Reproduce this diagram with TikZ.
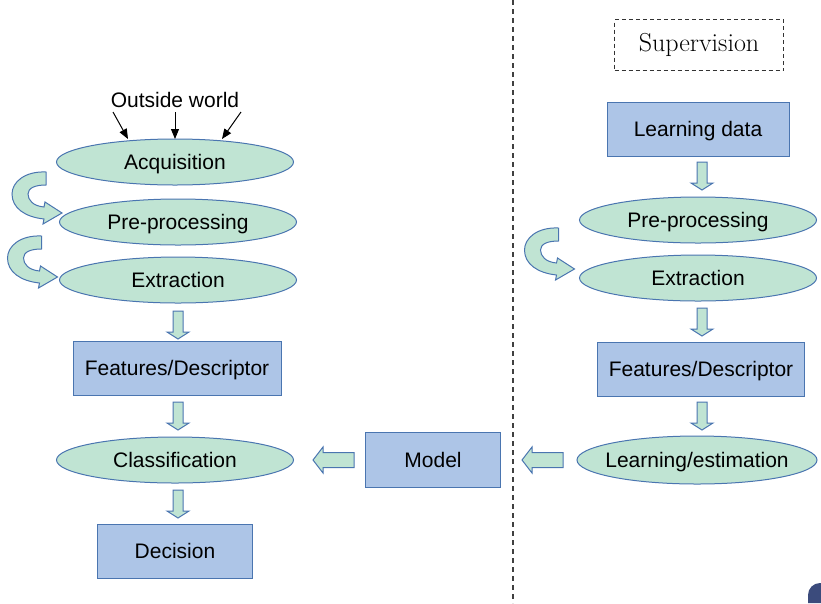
\documentclass[tikz,border=0pt]{standalone}
\usepackage{fontspec}
\newfontfamily\diagfont{Liberation Sans}
\usetikzlibrary{shapes.geometric,arrows.meta}
\definecolor{stagegreen}{HTML}{C0E4D3}
\definecolor{blockblue}{HTML}{ADC5E7}
\definecolor{edgeblue}{HTML}{4A75B0}
\definecolor{navblue}{HTML}{3B4B7C}
\tikzset{stage/.style={ellipse,draw=edgeblue,fill=stagegreen,line width=1pt,minimum width=237pt,minimum height=46pt,inner sep=0pt,text height=15pt,text depth=0pt,font=\diagfont\fontsize{21}{25}\selectfont}}
\tikzset{block/.style={rectangle,draw=edgeblue,fill=blockblue,line width=1pt,minimum height=54pt,inner sep=0pt,text height=15pt,text depth=0pt,font=\diagfont\fontsize{21}{25}\selectfont}}
\tikzset{plaintext/.style={inner sep=0pt,font=\diagfont\fontsize{21}{25}\selectfont}}
\tikzset{superbox/.style={rectangle,draw=black!80,dash pattern=on 4pt off 3pt,line width=1pt,minimum width=169pt,minimum height=51pt,font=\fontsize{26}{30}\selectfont}}
\tikzset{flow/.style={draw=edgeblue,fill=stagegreen,line width=1pt,line join=miter}}
\tikzset{feed/.style={-{Triangle[length=10pt,width=8pt]},line width=1pt,black}}
\tikzset{
  downarrow/.pic={\draw[flow] (-5,0) -- (5,0) -- (5,21) -- (11,21) -- (0,28) -- (-11,21) -- (-5,21) -- cycle;},
  leftarrow/.pic={\draw[flow] (0,0) -- (10,-13) -- (10,-7.5) -- (41,-7.5) -- (41,7.5) -- (10,7.5) -- (10,13) -- cycle;},
  turnarrow/.pic={\draw[flow] (16,-22) .. controls (-5,-23) and (-18,-12) .. (-18,0)
      .. controls (-18,14) and (-5,23) .. (14,25) -- (13,30) -- (32,19) -- (15,8) -- (14,13)
      .. controls (3,12) and (-2,6) .. (-2,0) .. controls (-2,-6) and (5,-9) .. (16,-9) -- cycle;}
}

\begin{document}
\begin{tikzpicture}[x=1pt,y=-1pt]
    \useasboundingbox (0,0) rectangle (821,603);

    % recognition chain
    \node [plaintext] (world) at (175,100) {Outside world};
    \node [stage] (acq) at (175,162) {Acquisition};
    \node [stage] (pre) at (178,222) {Pre-processing};
    \node [stage] (ext) at (178,280) {Extraction};
    \node [block,minimum width=208pt] (feat) at (177,368) {Features/Descriptor};
    \node [stage] (cls) at (175,460) {Classification};
    \node [block,minimum width=155pt] (dec) at (175,551) {Decision};

    \coordinate (w1) at (113,112);
    \coordinate (w2) at (175,112);
    \coordinate (w3) at (241,112);
    \coordinate (a1) at (128,139);
    \coordinate (a2) at (175,139);
    \coordinate (a3) at (222,139);
    \draw [feed] (w1) -- (a1);
    \draw [feed] (w2) -- (a2);
    \draw [feed] (w3) -- (a3);

    \pic at (30,194) {turnarrow};
    \pic at (25.5,258) {turnarrow};
    \pic at (178,311) {downarrow};
    \pic at (178,402) {downarrow};
    \pic at (178,490) {downarrow};

    \node [block,minimum width=135pt,minimum height=55pt] (model) at (433,460) {Model};
    \pic at (313,460) {leftarrow};
    \pic at (522,460) {leftarrow};

    \draw [black!75,line width=1.2pt,dash pattern=on 5pt off 4pt] (513,0) -- (513,603);

    % learning chain
    \node [superbox] (sup) at (699,45) {Supervision};
    \node [block,minimum width=182pt] (learn) at (698,129) {Learning data};
    \node [stage] (rpre) at (698,220) {Pre-processing};
    \node [stage] (rext) at (698,278) {Extraction};
    \node [block,minimum width=207pt] (rfeat) at (701,369) {Features/Descriptor};
    \node [stage,inner xsep=-12pt,minimum width=240pt,minimum height=48pt] (est) at (697,460) {Learning/estimation};

    \pic at (702,162) {downarrow};
    \pic at (542.5,250) {turnarrow};
    \pic at (702,308) {downarrow};
    \pic at (702,402) {downarrow};

    \fill [navblue] (808,603) -- (808,595) arc [start angle=180,end angle=270,radius=12] -- (821,583) -- (821,603) -- cycle;
\end{tikzpicture}
\end{document}
